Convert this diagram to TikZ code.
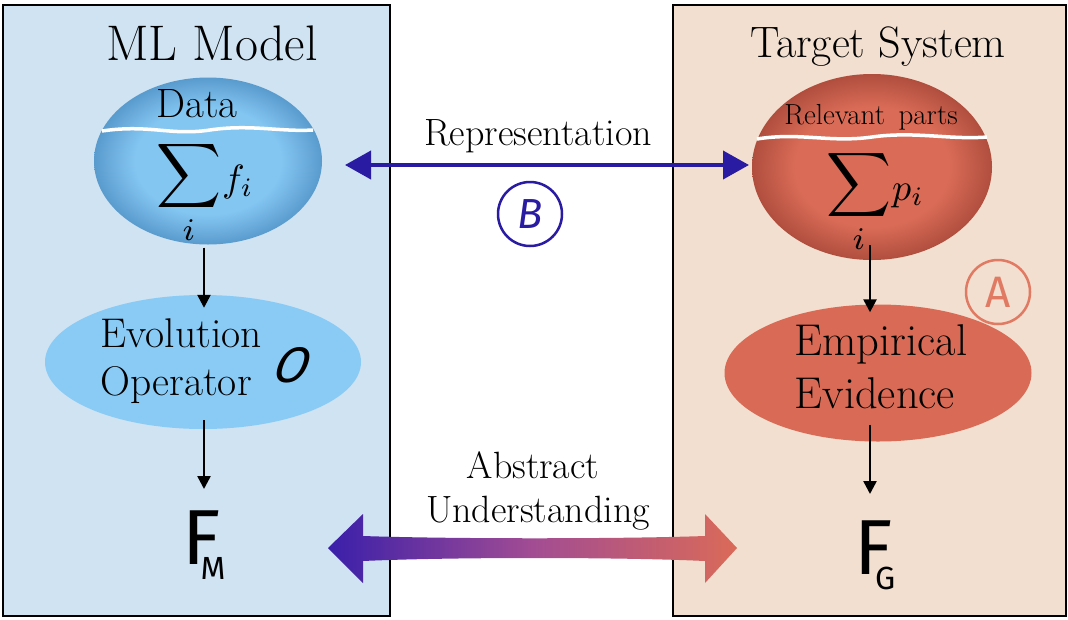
\documentclass[tikz,border=0pt]{standalone}
\usepackage{graphicx}
\usepackage{fontspec}
\newfontfamily\hand{Fira Sans}
\usetikzlibrary{shapes.geometric,arrows.meta,calc}
\definecolor{lbg}{HTML}{CFE3F2}
\definecolor{rbg}{HTML}{F2DFCF}
\definecolor{repc}{HTML}{2A1BA3}
\definecolor{redA}{HTML}{E07A63}
\definecolor{bin}{HTML}{84C6F2}
\definecolor{bout}{HTML}{5A9BCE}
\definecolor{rin}{HTML}{DA6C57}
\definecolor{rout}{HTML}{B04E3E}
\definecolor{evoc}{HTML}{8ACBF6}
\definecolor{empc}{HTML}{D96B56}
\definecolor{gl}{HTML}{3A1FAA}
\definecolor{gm}{HTML}{A24C93}
\definecolor{gr}{HTML}{DA6A58}
\pgfdeclareradialshading{eblue}{\pgfpoint{0bp}{0bp}}{color(0bp)=(bin); color(16bp)=(bin); color(25bp)=(bout); color(50bp)=(bout)}
\pgfdeclareradialshading{ered}{\pgfpoint{0bp}{0bp}}{color(0bp)=(rin); color(16bp)=(rin); color(25bp)=(rout); color(50bp)=(rout)}
\tikzset{
  panel/.style={line width=2.5pt, draw=black},
  arr/.style={line width=2.5pt, -{Triangle[length=13pt,width=13pt]}},
  bigell/.style={ellipse, inner sep=0pt},
  wave/.style={white, line width=3.5pt},
  lbl/.style={font=\fontsize{38}{44}\selectfont, anchor=base},
  circ/.style={circle, line width=2.5pt, minimum size=64pt, inner sep=0pt},
  sumnode/.style={anchor=base west, inner sep=0pt},
}
\begin{document}
\begin{tikzpicture}[x=1pt,y=-1pt]
\useasboundingbox (0,0) rectangle (1068,619);
\fill[white] (0,0) rectangle (1068,619);
\draw[panel, fill=lbg] (3,5) rectangle (390,616);
\draw[panel, fill=rbg] (673,5) rectangle (1066,616);

% titles
\node[font=\fontsize{50}{56}\selectfont, anchor=base] (mltitle) at (212,60) {ML Model};
\node[font=\fontsize{44}{50}\selectfont, anchor=base] (tstitle) at (878,57) {Target System};

% left column
\node[bigell, minimum width=228pt, minimum height=167pt, shade, shading=eblue] (data) at (208,161) {};
\draw[wave] (102,131) .. controls (150,124) and (170,136) .. (210,130) .. controls (250,124) and (280,132) .. (313,130);
\node[font=\fontsize{41}{44}\selectfont] (datat) at (197,104) {Data};
\node[sumnode] (sumf) at (156,187) {\scalebox{4.5}{$\displaystyle\sum_{\raisebox{4pt}{$\scriptstyle i$}}$}\kern1pt\raisebox{-4pt}{\scalebox{3.8}{$f_i$}}};

\node[bigell, minimum width=316pt, minimum height=134pt, fill=evoc] (evo) at (203,362) {};
\node[font=\fontsize{41.5}{48}\selectfont, anchor=base west] (evot1) at (97,347) {Evolution};
\node[font=\fontsize{41.5}{48}\selectfont, anchor=base west] (evot2) at (97,395) {Operator};
\node[font=\hand\itshape\fontsize{50}{50}\selectfont, xslant=0.25] (opO) at (293,365) {O};

\node (fm) at (204,545) {\hand\fontsize{78}{80}\selectfont F\kern-20pt\raisebox{-15pt}{\fontsize{32}{32}\selectfont M}};
\coordinate (fmtop) at (204,489);

\draw[arr] ($(data.south -| fm)+(0,3)$) -- ($(evo.north -| fm)+(0,13)$);
\draw[arr] ($(evo.south -| fm)+(0,-9)$) -- (fmtop);

% right column
\node[bigell, minimum width=240pt, minimum height=186pt, shade, shading=ered] (rel) at (872,167) {};
\draw[wave] (757,139) .. controls (800,132) and (830,143) .. (872,137) .. controls (915,131) and (950,140) .. (987,137);
\node[font=\fontsize{29}{32}\selectfont] (relt) at (871,117) {Relevant\, parts};
\node[sumnode] (sump) at (826,196) {\scalebox{4.5}{$\displaystyle\sum_{\raisebox{4pt}{$\scriptstyle i$}}$}\kern1pt\raisebox{-4pt}{\scalebox{3.8}{$p_i$}}};

\node[bigell, minimum width=307pt, minimum height=137pt, fill=empc] (emp) at (878,373) {};
\node[font=\fontsize{44.5}{53}\selectfont, anchor=base west] (empt1) at (791,355) {Empirical};
\node[font=\fontsize{44.5}{53}\selectfont, anchor=base west] (empt2) at (791,408) {Evidence};

\node (fg) at (875,555) {\hand\fontsize{78}{80}\selectfont F\kern-18pt\raisebox{-15pt}{\fontsize{32}{32}\selectfont G}};
\coordinate (fgtop) at (870,494);

\draw[arr] ($(rel.south -| fgtop)+(0,-15)$) -- ($(emp.north -| fgtop)+(0,8)$);
\draw[arr] ($(emp.south -| fgtop)+(0,-17)$) -- (fgtop);

\node[circ, draw=redA, text=redA, font=\hand\fontsize{44}{44}\selectfont] (circA) at (998,292) {A};

% representation
\coordinate (repL) at (345,165);
\coordinate (repR) at (749,165);
\draw[repc, line width=4pt, {Triangle[length=26pt,width=28pt]}-{Triangle[length=26pt,width=28pt]}] (repL) -- (repR);
\node[lbl] (rept) at (538,145) {Representation};
\node[circ, draw=repc, text=repc, font=\hand\itshape\fontsize{42}{42}\selectfont] (circB) at (530,214) {B};

% abstract understanding
\node[lbl] (abst1) at (533,478) {Abstract};
\node[lbl] (abst2) at (538,522) {Understanding};
\shade[left color=gl, right color=gr, middle color=gm]
  (328,548) -- (363,514) -- (363,536) .. controls (450,539) and (620,539) .. (705,536)
  -- (705,514) -- (737,548) -- (705,583) -- (705,561)
  .. controls (620,557) and (450,557) .. (363,561) -- (363,583) -- cycle;
\end{tikzpicture}
\end{document}
